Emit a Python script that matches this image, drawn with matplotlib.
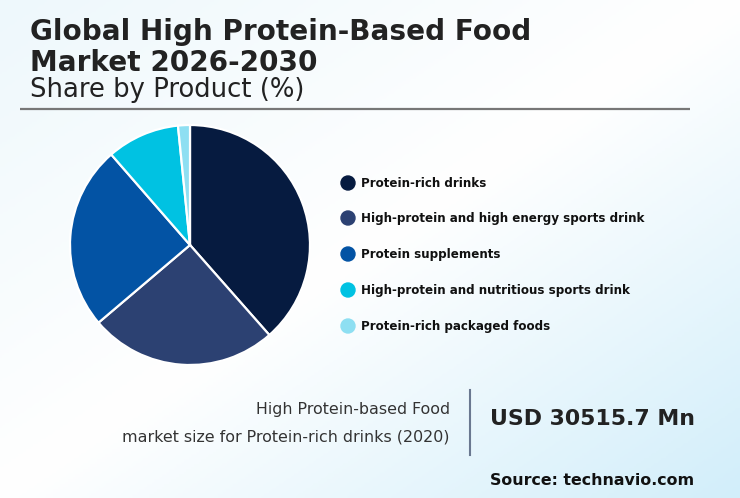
import numpy as np
import matplotlib
matplotlib.use("Agg")
import matplotlib.pyplot as plt
from matplotlib.colors import LinearSegmentedColormap
from matplotlib.patches import Circle

plt.rcParams['font.family'] = ['DejaVu Sans']

categories = ["Protein-rich drinks",
              "High-protein and high energy sports drink",
              "Protein supplements",
              "High-protein and nutritious sports drink",
              "Protein-rich packaged foods"]
shares = [38.5, 25.3, 24.8, 9.8, 1.6]
colors = ["#061b40", "#2c4172", "#0353a4", "#00c2e2", "#8edff2"]

title_lines = ["Global High Protein-Based Food", "Market 2026-2030"]
subtitle = "Share by Product (%)"
info_lines = ["High Protein-based Food", "market size for Protein-rich drinks (2020)"]
headline_value = "USD 30515.7 Mn"
source = "Source: technavio.com"

W, H = 740, 498
fig = plt.figure(figsize=(W / 100, H / 100), dpi=100)

# background gradient
bg = fig.add_axes([0, 0, 1, 1])
xx, yy = np.meshgrid(np.linspace(0, 1, 300), np.linspace(0, 1, 200))
t = (xx + yy) / 2
cmap = LinearSegmentedColormap.from_list("bg", [(0, "#eef8fc"), (0.5, "#ffffff"), (1, "#d2eefa")])
bg.imshow(t, cmap=cmap, aspect="auto", extent=[0, W, H, 0], vmin=0, vmax=1)
bg.set_xlim(0, W)
bg.set_ylim(H, 0)
bg.axis("off")

# titles
bg.text(30, 40, title_lines[0], fontsize=20.1, fontweight="bold", color="#222222", va="baseline")
bg.text(30, 71, title_lines[1], fontsize=20.1, fontweight="bold", color="#222222", va="baseline")
bg.text(30, 97, subtitle, fontsize=18.6, color="#222222", va="baseline")
bg.plot([20, 690], [109, 109], color="#777777", lw=1.6, solid_capstyle="butt")

# pie
cx, cy, r = 190, 245, 120
pax = fig.add_axes([(cx - r) / W, (H - cy - r) / H, 2 * r / W, 2 * r / H])
pax.pie(shares, colors=colors, startangle=90, counterclock=False, radius=1,
        wedgeprops=dict(edgecolor="white", linewidth=1.6))
pax.set_xlim(-1, 1)
pax.set_ylim(-1, 1)
pax.set_aspect("auto")
pax.axis("off")

# legend
ys = [183, 218, 254, 290, 326]
for cat, col, y in zip(categories, colors, ys):
    bg.add_patch(Circle((348, y), 7, color=col, zorder=3))
    bg.text(361, y, cat, fontsize=8.6, fontweight="bold", color="#111111", va="center", ha="left")

# bottom info
bg.text(450, 409, info_lines[0], fontsize=11.4, color="#333333", ha="right", va="center")
bg.text(450, 437, info_lines[1], fontsize=11.4, color="#333333", ha="right", va="center")
bg.plot([470, 470], [390, 455], color="#6a7890", lw=1.5)
bg.text(490, 419, headline_value, fontsize=15.8, fontweight="bold", color="#222222", ha="left", va="center")
bg.text(694, 480, source, fontsize=11.4, fontweight="bold", color="#111111", ha="right", va="center")

fig.savefig("out.png", dpi=100)
